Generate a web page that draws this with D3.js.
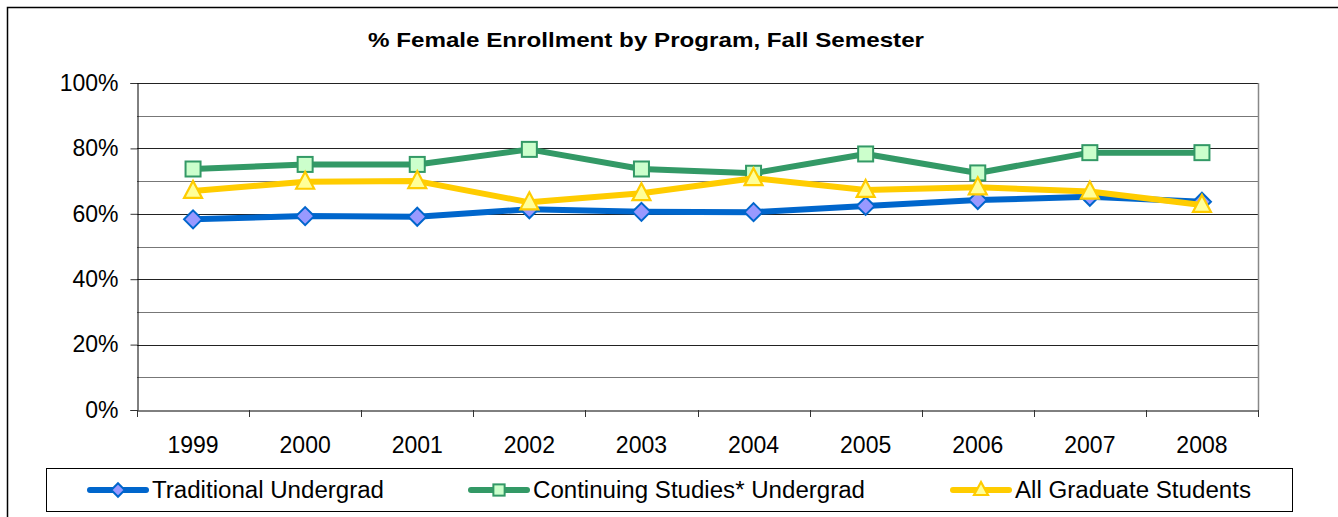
<!DOCTYPE html>
<html><head><meta charset="utf-8">
<script src="https://cdn.jsdelivr.net/npm/d3@7"></script>
<style>body{margin:0;background:#fff;} svg{display:block;font-family:"Liberation Sans",Arial,sans-serif;}</style>
</head><body><svg id="c" width="1338" height="517"></svg>
<script>
const years = ["1999","2000","2001","2002","2003","2004","2005","2006","2007","2008"];
const traditional = [0.583,0.593,0.591,0.614,0.606,0.605,0.624,0.642,0.652,0.637];
const continuing = [0.737,0.751,0.751,0.797,0.737,0.724,0.783,0.725,0.787,0.787];
const graduate = [0.670,0.698,0.700,0.635,0.663,0.709,0.673,0.681,0.668,0.627];
const yTicks = [0,0.2,0.4,0.6,0.8,1.0];
const gridVals = [0.1,0.2,0.3,0.4,0.5,0.6,0.7,0.8,0.9,1.0];
const seriesNames = ["Traditional Undergrad","Continuing Studies* Undergrad","All Graduate Students"];

const series = [
  {name:seriesNames[0], values:traditional, line:"#0066CC", fill:"#9999FF", sym:"diamond"},
  {name:seriesNames[1], values:continuing, line:"#339966", fill:"#CCFFCC", sym:"square"},
  {name:seriesNames[2], values:graduate, line:"#FFCC00", fill:"#FFFF99", sym:"triangle"}
];

const svg = d3.select("#c");
const L=137, R=1258, T=83, B=410;
const x = d3.scaleBand().domain(years).range([L,R]);
const y = d3.scaleLinear().domain([0,1]).range([B,T]);

// outer border
svg.append("rect").attr("x",7.5).attr("y",7.5).attr("width",1400).attr("height",600)
  .attr("fill","none").attr("stroke","#000").attr("stroke-width",1.5);

// title
svg.append("text").attr("x",646).attr("y",47).attr("text-anchor","middle")
  .attr("font-weight","bold").attr("font-size",21)
  .attr("textLength",556).attr("lengthAdjust","spacingAndGlyphs")
  .text("% Female Enrollment by Program, Fall Semester");

// gridlines
svg.append("g").selectAll("line").data(gridVals).join("line")
  .attr("x1",L).attr("x2",R).attr("y1",d=>Math.round(y(d))+0.5).attr("y2",d=>Math.round(y(d))+0.5)
  .attr("stroke",(d,i)=>i%2===1?"#222":"#777").attr("stroke-width",1);
// right border of plot
svg.append("line").attr("x1",R+0.5).attr("x2",R+0.5).attr("y1",T).attr("y2",B).attr("stroke","#888").attr("stroke-width",1.5);

// y axis
const yAxis = d3.axisLeft(y).tickValues(yTicks).tickFormat(d3.format(".0%")).tickSize(7).tickPadding(12);
const gy = svg.append("g").attr("transform",`translate(${L+0.5},0)`).call(yAxis);
gy.select(".domain").attr("stroke","#000");
gy.selectAll(".tick line").attr("stroke","#333");
gy.selectAll("text").attr("font-size",23).attr("fill","#000").attr("font-family","Liberation Sans, Arial, sans-serif");

// x axis
const xAxis = d3.axisBottom(x).tickSize(0).tickPadding(26);
const gx = svg.append("g").attr("transform",`translate(0,${B+0.5})`).call(xAxis);
gx.select(".domain").attr("stroke","#000");
gx.selectAll("text").attr("font-size",23).attr("fill","#000").attr("font-family","Liberation Sans, Arial, sans-serif");
// tick marks at category boundaries
const bounds = years.map(d=>x(d)).concat([R]);
svg.append("g").selectAll("line").data(bounds).join("line")
  .attr("x1",d=>Math.round(d)+0.5).attr("x2",d=>Math.round(d)+0.5).attr("y1",B).attr("y2",B+7)
  .attr("stroke","#333");

const cx = d=>x(d)+x.bandwidth()/2;
const line = d3.line().x((v,i)=>cx(years[i])).y(v=>y(v));

function marker(g, s, px, py, scale){
  const k = scale||1;
  if(s.sym==="diamond"){
    const h=9*k;
    g.append("path").attr("d",`M${px},${py-h}L${px+h},${py}L${px},${py+h}L${px-h},${py}Z`)
     .attr("fill",s.fill).attr("stroke",s.line).attr("stroke-width",2);
  } else if(s.sym==="square"){
    const h=7.5*k;
    g.append("rect").attr("x",px-h).attr("y",py-h).attr("width",2*h).attr("height",2*h)
     .attr("fill",s.fill).attr("stroke",s.line).attr("stroke-width",2);
  } else {
    const h=8*k;
    g.append("path").attr("d",`M${px},${py-h-2}L${px+h+1},${py+h-1}L${px-h-1},${py+h-1}Z`)
     .attr("fill",s.fill).attr("stroke",s.line).attr("stroke-width",2.2).attr("stroke-linejoin","miter");
  }
}

series.forEach(s=>{
  const g = svg.append("g");
  g.append("path").attr("d",line(s.values)).attr("fill","none").attr("stroke",s.line)
   .attr("stroke-width",6).attr("stroke-linejoin","round").attr("stroke-linecap","round");
  s.values.forEach((v,i)=>marker(g,s,cx(years[i]),y(v)));
});

// legend
svg.append("rect").attr("x",46.5).attr("y",468.5).attr("width",1246).attr("height",43)
  .attr("fill","#fff").attr("stroke","#000").attr("stroke-width",1);
const legX = [87,468,950];
const legW = [232,332,236];
series.forEach((s,i)=>{
  const g = svg.append("g");
  const x0=legX[i], ly=490;
  g.append("line").attr("x1",x0+3).attr("x2",x0+59).attr("y1",ly).attr("y2",ly)
   .attr("stroke",s.line).attr("stroke-width",6).attr("stroke-linecap","round");
  marker(g,s,x0+31,ly,0.75);
  g.append("text").attr("x",x0+65).attr("y",ly+8).attr("font-size",23)
   .attr("textLength",legW[i]).attr("lengthAdjust","spacingAndGlyphs").text(s.name);
});
</script></body></html>
